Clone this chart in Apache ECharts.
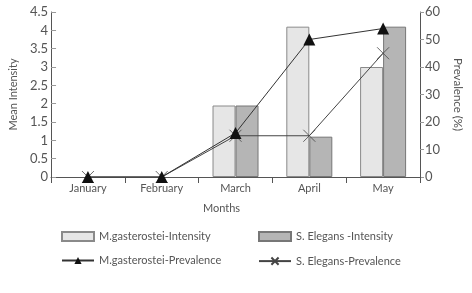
<!DOCTYPE html>
<html>
<head>
<meta charset="utf-8">
<script src="https://cdn.jsdelivr.net/npm/echarts@6/dist/echarts.min.js"></script>
<style>
html,body{margin:0;padding:0;background:#fff;}
#chart{width:472px;height:293px;}
</style>
</head>
<body>
<div id="chart"></div>
<script>
var months = ['January', 'February', 'March', 'April', 'May'];   // 月份
var mgIntensity = [0, 0, 1.95, 4.1, 3.0];          // M.gasterostei 平均强度
var seIntensity = [0, 0, 1.95, 1.1, 4.1];          // S. Elegans 平均强度
var mgPrevalence = [0, 0, 16, 50, 54];             // M.gasterostei 流行率
var sePrevalence = [0, 0, 15, 15, 45];             // S. Elegans 流行率

var txt = '#555';
var fnt = 'Lato';
var crossIcon = 'path://M0,0L10,10M10,0L0,10';

// 0 值的柱子不画（原图没有）
function noZero(arr){
    return arr.map(function(v){ return v === 0 ? '-' : v; });
}

var myChart = echarts.init(document.getElementById('chart'));
var option = {
    animation: false,
    textStyle: { fontFamily: fnt, color: txt },
    grid: {
        left: 38,
        right: 47,
        top: 12,
        bottom: 116
    },
    legend: [
        {
            orient: 'vertical',
            left: 56,
            top: 226,
            itemWidth: 32,
            itemHeight: 9,
            itemGap: 13,
            textStyle: { fontFamily: fnt, fontSize: 11, color: txt },
            data: [
                { name: 'M.gasterostei-Intensity', icon: 'rect' },
                { name: 'M.gasterostei-Prevalence' }
            ]
        },
        {
            orient: 'vertical',
            left: 253,
            top: 226,
            itemWidth: 32,
            itemHeight: 9,
            itemGap: 13,
            textStyle: { fontFamily: fnt, fontSize: 11, color: txt },
            data: [
                { name: 'S. Elegans -Intensity', icon: 'rect' },
                { name: 'S. Elegans-Prevalence' }
            ]
        }
    ],
    xAxis: {
        type: 'category',
        data: months,
        boundaryGap: true,
        name: 'Months',
        nameLocation: 'middle',
        nameGap: 26,
        nameTextStyle: { fontSize: 11, color: txt, padding: [0, 28, 0, 0] },
        axisLine: { lineStyle: { color: '#555', width: 1 } },
        axisTick: { show: true, length: 6, lineStyle: { color: '#555' } },
        axisLabel: { fontSize: 11, color: txt, margin: 6 },
        splitLine: { show: false }
    },
    yAxis: [
        {
            type: 'value',
            min: 0,
            max: 4.5,
            interval: 0.5,
            name: 'Mean Intensity',
            nameLocation: 'middle',
            nameGap: 28,
            nameTextStyle: { fontSize: 11, color: txt },
            axisLine: { show: true, lineStyle: { color: '#555', width: 1 } },
            axisTick: { show: true, inside: true, length: 5, lineStyle: { color: '#999' } },
            axisLabel: { fontSize: 13, color: txt, margin: 3 },
            splitLine: { show: false }
        },
        {
            type: 'value',
            min: 0,
            max: 60,
            interval: 10,
            position: 'right',
            name: 'Prevalence (%)',
            nameLocation: 'middle',
            nameRotate: -90,
            nameGap: 32,
            nameTextStyle: { fontSize: 11.5, color: txt },
            axisLine: { show: true, lineStyle: { color: '#555', width: 1 } },
            axisTick: { show: true, length: 4, lineStyle: { color: '#999' } },
            axisLabel: { fontSize: 13, color: txt, margin: 5 },
            splitLine: { show: false }
        }
    ],
    series: [
        {
            name: 'M.gasterostei-Intensity',
            type: 'bar',
            barWidth: 23,
            barGap: '0%',
            data: noZero(mgIntensity),
            itemStyle: { color: '#e6e6e6', borderColor: '#8a8a8a', borderWidth: 1 }
        },
        {
            name: 'S. Elegans -Intensity',
            type: 'bar',
            barWidth: 23,
            barGap: '0%',
            data: noZero(seIntensity),
            itemStyle: { color: '#b5b5b5', borderColor: '#777', borderWidth: 1 }
        },
        {
            name: 'S. Elegans-Prevalence',
            type: 'line',
            yAxisIndex: 1,
            data: sePrevalence,
            symbol: crossIcon,
            symbolSize: 12,
            lineStyle: { color: '#444', width: 1 },
            itemStyle: { color: 'none', borderColor: '#444', borderWidth: 0.8 }
        },
        {
            name: 'M.gasterostei-Prevalence',
            type: 'line',
            yAxisIndex: 1,
            data: mgPrevalence,
            symbol: 'triangle',
            symbolSize: 12,
            lineStyle: { color: '#333', width: 1 },
            itemStyle: { color: '#111' }
        }
    ]
};
myChart.setOption(option);
</script>
</body>
</html>
